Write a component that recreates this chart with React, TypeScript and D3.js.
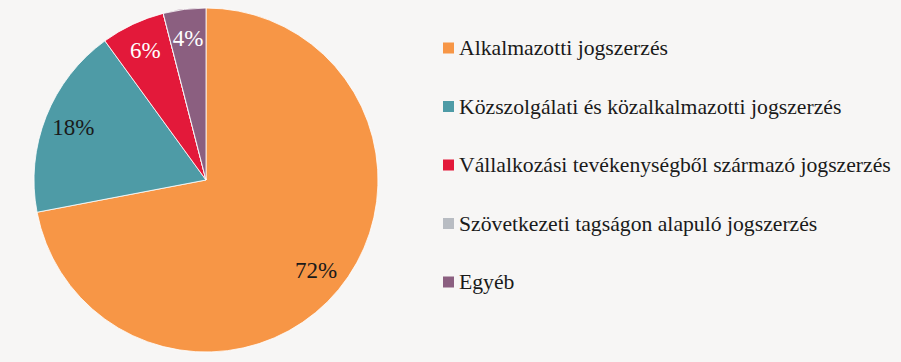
import React, { useRef, useEffect } from "react";
import * as d3 from "d3";

const categories = [
  "Alkalmazotti jogszerzés",
  "Közszolgálati és közalkalmazotti jogszerzés",
  "Vállalkozási tevékenységből származó jogszerzés",
  "Szövetkezeti tagságon alapuló jogszerzés",
  "Egyéb",
];
const values = [72, 18, 6, 0, 4];
const labels = ["72%", "18%", "6%", "", "4%"];
const colors = ["#F79646", "#4E9BA6", "#E3193A", "#B8BCC2", "#8B5F80"];
const labelColors = ["#1a1a1a", "#1a1a1a", "#ffffff", "#ffffff", "#ffffff"];

const App: React.FC = () => {
  const ref = useRef<SVGSVGElement>(null);

  useEffect(() => {
    const width = 901;
    const height = 362;
    const cx = 206;
    const cy = 180;
    const r = 172;
    const font = "'Liberation Serif', serif";

    const svg = d3.select(ref.current);
    svg.selectChildren().remove();

    svg
      .append("rect")
      .attr("width", width)
      .attr("height", height)
      .attr("fill", "#F7F6F5");

    const pie = d3
      .pie<number>()
      .sort(null)
      .value((d) => d);
    const arcs = pie(values);

    const arc = d3.arc<d3.PieArcDatum<number>>().innerRadius(0).outerRadius(r);
    const labelArc = d3
      .arc<d3.PieArcDatum<number>>()
      .innerRadius(r * 0.83)
      .outerRadius(r * 0.83);

    const g = svg.append("g").attr("transform", `translate(${cx},${cy})`);

    g.selectAll("path")
      .data(arcs)
      .join("path")
      .attr("d", arc)
      .attr("fill", (_, i) => colors[i])
      .attr("stroke", "#ffffff")
      .attr("stroke-width", 0.8);

    g.selectAll("text")
      .data(arcs)
      .join("text")
      .attr("transform", (d) => `translate(${labelArc.centroid(d)})`)
      .attr("text-anchor", "middle")
      .attr("dominant-baseline", "central")
      .style("font-family", font)
      .attr("font-size", 23)
      .attr("fill", (_, i) => labelColors[i])
      .text((_, i) => labels[i]);

    // legend on the right
    const y = d3
      .scalePoint<string>()
      .domain(categories)
      .range([48, 282]);

    const legend = svg
      .append("g")
      .selectAll("g")
      .data(categories)
      .join("g")
      .attr("transform", (d) => `translate(443,${y(d)})`);

    legend
      .append("rect")
      .attr("x", 0)
      .attr("y", -5.5)
      .attr("width", 11)
      .attr("height", 11)
      .attr("fill", (_, i) => colors[i]);

    legend
      .append("text")
      .attr("x", 16)
      .attr("y", 0)
      .attr("dominant-baseline", "central")
      .style("font-family", font)
      .attr("font-size", 21.7)
      .attr("fill", "#1a1a1a")
      .text((d) => d);
  }, []);

  return (
    <svg
      ref={ref}
      width={901}
      height={362}
      style={{ position: "absolute", left: 0, top: 0, display: "block" }}
    />
  );
};

export default App;
